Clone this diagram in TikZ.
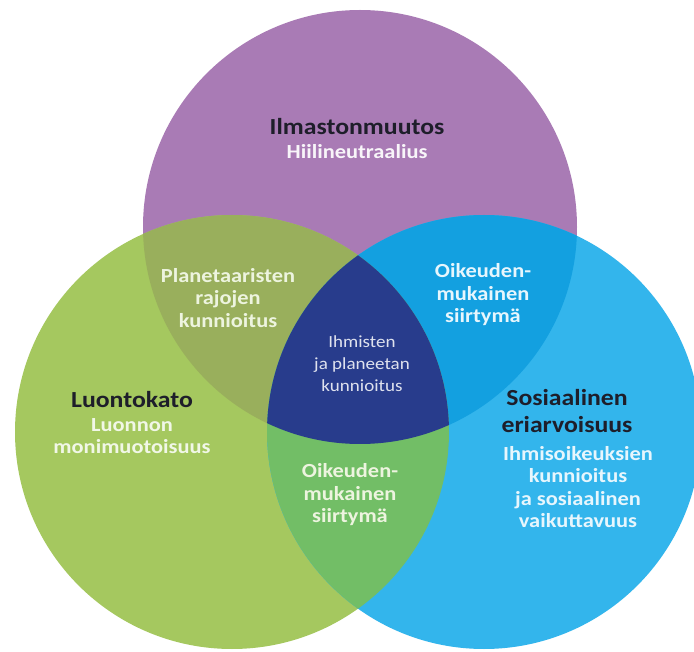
\documentclass[tikz,border=0pt]{standalone}
\usepackage{fontspec}
\setmainfont{Carlito}[FakeStretch=1.12]
\usepackage{xcolor}
\usetikzlibrary{positioning}

\definecolor{climate}{HTML}{A97BB5}
\definecolor{nature}{HTML}{A5C85F}
\definecolor{social}{HTML}{33B5EC}
\definecolor{climnat}{HTML}{99AF5C}
\definecolor{climsoc}{HTML}{13A0E0}
\definecolor{natsoc}{HTML}{72BE66}
\definecolor{core}{HTML}{283C8C}
\definecolor{ink}{HTML}{1E1E2A}

\tikzset{
  title/.style={text=ink, font=\fontsize{23}{27}\selectfont\bfseries, align=center, inner sep=0pt},
  sub/.style={font=\fontsize{20}{22.5}\selectfont\bfseries, align=center, inner sep=0pt},
  lens/.style={text=#1, font=\fontsize{20}{22.5}\selectfont\bfseries, align=center, inner sep=0pt}
}

\begin{document}
\begin{tikzpicture}[x=1pt, y=-1pt]
\clip (0,0) rectangle (694,652);
\fill[white] (0,0) rectangle (694,652);

% Circle centres
\coordinate (cP) at (360,227);
\coordinate (cG) at (232,432);
\coordinate (cB) at (484,432);
\def\rad{217}

% Circles
\fill[climate] (cP) circle (\rad);
\fill[nature] (cG) circle (\rad);
\fill[social] (cB) circle (\rad);

% Overlaps
\begin{scope}
  \clip (cP) circle (\rad);
  \fill[climnat] (cG) circle (\rad);
  \fill[climsoc] (cB) circle (\rad);
\end{scope}
\begin{scope}
  \clip (cG) circle (\rad);
  \fill[natsoc] (cB) circle (\rad);
  \clip (cB) circle (\rad);
  \fill[core] (cP) circle (\rad);
\end{scope}

% Climate
\node[title] (ilm) at (357,127) {Ilmastonmuutos};
\node[sub, text=white!92!climate, below=24pt of ilm.base, anchor=base] (hii) {Hiilineutraalius};

% Nature
\node[title] (luo) at (132,400) {Luontokato};
\node[sub, text=white!85!nature, below=46pt of luo.base, anchor=base] (mon) {Luonnon\\monimuotoisuus};

% Social
\node[title] (sos) at (567,411) {Sosiaalinen\\eriarvoisuus};
\node[sub, text=white!88!social] (ihm) at (578,487) {Ihmisoikeuksien\\kunnioitus\\ja sosiaalinen\\vaikuttavuus};

% Overlap texts
\node[lens=white!80!nature] (pla) at (228,298) {Planetaaristen\\rajojen\\kunnioitus};
\node[lens=white!88!social] (oik1) at (483,295) {Oikeuden-\\mukainen\\siirtymä};
\node[lens=white!80!nature] (oik2) at (350,495) {Oikeuden-\\mukainen\\siirtymä};
\node[text=white!85!core, font=\fontsize{17}{22}\selectfont, align=center, inner sep=0pt] (hum) at (362,364) {Ihmisten\\ja planeetan\\kunnioitus};
\end{tikzpicture}
\end{document}
